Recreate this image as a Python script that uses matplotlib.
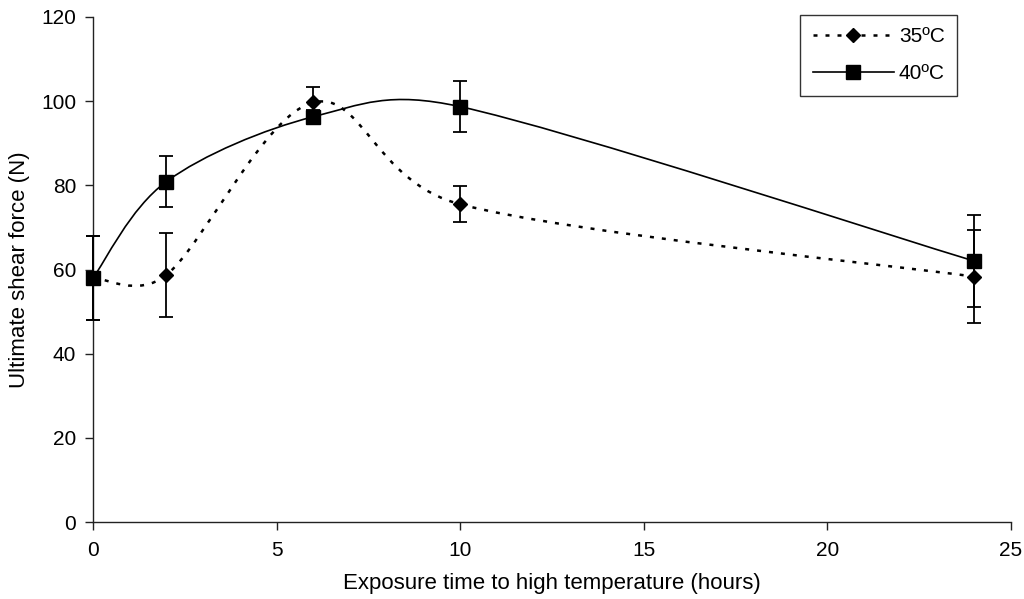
import numpy as np
import matplotlib
matplotlib.use("Agg")
import matplotlib.pyplot as plt
from matplotlib.path import Path
from matplotlib.patches import PathPatch
from matplotlib.lines import Line2D

plt.rcParams['font.family'] = ['Liberation Sans', 'DejaVu Sans']

# ---- data ----
hours = [0, 2, 6, 10, 24]
force_35 = [58.0, 58.7, 99.7, 75.5, 58.3]
err_35 = [10.0, 10.0, 3.6, 4.3, 11.0]
force_40 = [58.0, 80.9, 96.3, 98.7, 62.0]
err_40 = [10.0, 6.0, 1.5, 6.0, 11.0]
labels = ["35ºC", "40ºC"]
x_ticks = [0, 5, 10, 15, 20, 25]
y_ticks = [0, 20, 40, 60, 80, 100, 120]

FS = 15
LFS = 16

fig = plt.figure(figsize=(10.24, 5.99), dpi=100)
ax = fig.add_axes([93/1024, 1-522/599, (1011-93)/1024, (522-17)/599])
ax.set_xlim(0, 25)
ax.set_ylim(0, 120)
ax.set_xticks(x_ticks)
ax.set_yticks(y_ticks)
for s in ['top', 'right']:
    ax.spines[s].set_visible(False)
for s in ['left', 'bottom']:
    ax.spines[s].set_color('#222222')
    ax.spines[s].set_linewidth(1.0)
ax.tick_params(direction='out', length=6, width=1, color='#222222', labelsize=FS, pad=6)
ax.tick_params(axis='x', pad=8)
ax.set_xlabel("Exposure time to high temperature (hours)", fontsize=LFS, labelpad=9)
ax.set_ylabel("Ultimate shear force (N)", fontsize=LFS, labelpad=8)


def excel_smooth_path(ax, xs, ys):
    pts = ax.transData.transform(np.column_stack([xs, ys]))
    n = len(pts)
    verts = [pts[0]]
    codes = [Path.MOVETO]
    f = 1.0 / 6.0
    for i in range(n - 1):
        p0 = pts[i - 1] if i > 0 else pts[i]
        p1 = pts[i]
        p2 = pts[i + 1]
        p3 = pts[i + 2] if i + 2 < n else pts[i + 1]
        d12 = np.linalg.norm(p2 - p1)

        def sc(t):
            L = np.linalg.norm(t)
            if L == 0:
                return t * 0
            return t * min(f, 0.5 * d12 / L)
        c1 = p1 + sc(p2 - p0)
        c2 = p2 - sc(p3 - p1)
        verts += [c1, c2, p2]
        codes += [Path.CURVE4] * 3
    vd = ax.transData.inverted().transform(np.array(verts))
    return Path(vd, codes)


dot_style = (0, (1.6, 3.2))
p35 = PathPatch(excel_smooth_path(ax, hours, force_35), fill=False, edgecolor='black',
                linewidth=1.8, linestyle=dot_style, zorder=2, clip_on=False)
p40 = PathPatch(excel_smooth_path(ax, hours, force_40), fill=False, edgecolor='black',
                linewidth=1.2, linestyle='-', zorder=2, clip_on=False)
ax.add_patch(p35)
ax.add_patch(p40)

for vals, errs in [(force_35, err_35), (force_40, err_40)]:
    eb = ax.errorbar(hours, vals, yerr=errs, fmt='none', ecolor='black', elinewidth=1.3,
                     capsize=5, capthick=1.3, zorder=3)
    for art in eb.lines[1] + eb.lines[2]:
        art.set_clip_on(False)
ax.plot(hours, force_40, linestyle='none', marker='s', markersize=10, color='black',
        zorder=4, clip_on=False)
ax.plot(hours, force_35, linestyle='none', marker='D', markersize=7.5, color='black',
        zorder=5, clip_on=False)

h35 = Line2D([], [], color='black', linewidth=1.8, linestyle=dot_style, marker='D', markersize=7.5)
h40 = Line2D([], [], color='black', linewidth=1.2, linestyle='-', marker='s', markersize=10)
leg = ax.legend([h35, h40], labels, loc='upper left', bbox_to_anchor=((800-93)/918, (522-15)/505),
                fontsize=FS, frameon=True, fancybox=False, framealpha=1, edgecolor='#333333',
                handlelength=3.9, handletextpad=0.25, labelspacing=0.85, borderpad=0.6,
                borderaxespad=0)
leg.get_frame().set_linewidth(1.0)

fig.savefig("out.png", dpi=100)
